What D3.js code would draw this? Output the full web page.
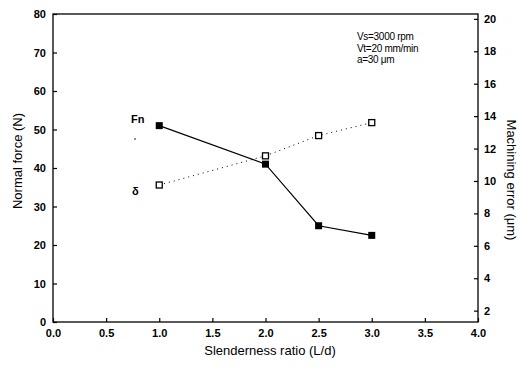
<html>
<head>
<meta charset="utf-8">
<script src="https://d3js.org/d3.v7.min.js"></script>
<style>
body {
	margin: 0;
	background: #fff;
	font-family: "Liberation Sans", Arial, sans-serif;
}
.tick text { font-weight: bold; font-size: 11px; font-family: "Liberation Sans", Arial, sans-serif; }
</style>
</head>
<body>
<div id="chart"></div>
<script>
	// slenderness ratio L/d
	var ratios = [1.0, 2.0, 2.5, 3.0];
	// normal force Fn (N)
	var forceFn = [51, 41, 25, 22.5];
	// machining error delta (um)
	var errorDelta = [9.75, 11.55, 12.8, 13.6];

	var xTicks = [0.0, 0.5, 1.0, 1.5, 2.0, 2.5, 3.0, 3.5, 4.0];
	var leftTicks = [0, 10, 20, 30, 40, 50, 60, 70, 80];
	var rightTicks = [2, 4, 6, 8, 10, 12, 14, 16, 18, 20];
	var notes = ["Vs=3000 rpm", "Vt=20 mm/min", "a=30 \u03bcm"];

	var width = 520, height = 367;
	var margin = {top: 14, right: 42, bottom: 45, left: 53};

	var svg = d3.select("#chart").append("svg")
		.attr("width", width)
		.attr("height", height);

	var x = d3.scaleLinear().domain([0, 4]).range([margin.left, width - margin.right]);
	var y = d3.scaleLinear().domain([0, 80]).range([height - margin.bottom, margin.top]);
	var y2 = d3.scaleLinear().domain([1.3, 20.3]).range([height - margin.bottom, margin.top]);

	// frame
	svg.append("rect")
		.attr("x", margin.left)
		.attr("y", margin.top)
		.attr("width", x(4) - x(0))
		.attr("height", y(0) - y(80))
		.attr("fill", "none")
		.attr("stroke", "#000")
		.attr("stroke-width", 1.3);

	var xAxis = svg.append("g")
		.attr("transform", `translate(0,${y(0)})`)
		.call(d3.axisTop(x).tickValues(xTicks).tickFormat(d3.format(".1f")).tickSize(4).tickPadding(0));
	xAxis.selectAll(".tick text").attr("dy", "0").attr("y", 15);

	var yAxis = svg.append("g")
		.attr("transform", `translate(${margin.left},0)`)
		.call(d3.axisRight(y).tickValues(leftTicks).tickSize(4));
	yAxis.selectAll(".tick text").attr("x", -7).attr("text-anchor", "end");

	var yAxis2 = svg.append("g")
		.attr("transform", `translate(${x(4)},0)`)
		.call(d3.axisLeft(y2).tickValues(rightTicks).tickSize(4));
	yAxis2.selectAll(".tick text").attr("x", 6).attr("text-anchor", "start");

	svg.selectAll(".domain").remove();
	svg.selectAll(".tick line").attr("stroke-width", 1.2);

	// axis titles
	svg.append("text")
		.attr("transform", "translate(22," + 161 + ") rotate(-90)")
		.attr("text-anchor", "middle")
		.style("font-size", "13px")
		.text("Normal force (N)");

	svg.append("text")
		.attr("transform", "translate(507," + 180 + ") rotate(90)")
		.attr("text-anchor", "middle")
		.style("font-size", "13px")
		.text("Machining error (\u03bcm)");

	svg.append("text")
		.attr("x", 270)
		.attr("y", 355)
		.attr("text-anchor", "middle")
		.style("font-size", "13px")
		.text("Slenderness ratio (L/d)");

	// Fn line
	var fnData = ratios.map((r, i) => [r, forceFn[i]]);
	svg.append("path")
		.datum(fnData)
		.attr("fill", "none")
		.attr("stroke", "#000")
		.attr("stroke-width", 1.2)
		.attr("d", d3.line().x(d => x(d[0])).y(d => y(d[1])));
	svg.selectAll("rect.fn")
		.data(fnData)
		.enter().append("rect")
		.attr("class", "fn")
		.attr("x", d => x(d[0]) - 3.5)
		.attr("y", d => y(d[1]) - 3.5)
		.attr("width", 7)
		.attr("height", 7)
		.attr("fill", "#000");

	// delta line
	var dData = ratios.map((r, i) => [r, errorDelta[i]]);
	svg.append("path")
		.datum(dData)
		.attr("fill", "none")
		.attr("stroke", "#000")
		.attr("stroke-width", 1)
		.attr("stroke-dasharray", "1,4")
		.attr("d", d3.line().x(d => x(d[0])).y(d => y2(d[1])));
	svg.selectAll("rect.dl")
		.data(dData)
		.enter().append("rect")
		.attr("class", "dl")
		.attr("x", d => x(d[0]) - 3)
		.attr("y", d => y2(d[1]) - 3)
		.attr("width", 6)
		.attr("height", 6)
		.attr("fill", "#fff")
		.attr("stroke", "#000")
		.attr("stroke-width", 1.3);

	// series labels
	svg.append("text")
		.attr("x", 131)
		.attr("y", 123)
		.style("font-size", "11px")
		.style("font-weight", "bold")
		.text("Fn");
	svg.append("circle")
		.attr("cx", 135)
		.attr("cy", 139)
		.attr("r", 0.8)
		.attr("fill", "#000");
	svg.append("text")
		.attr("x", 132)
		.attr("y", 195)
		.style("font-size", "11px")
		.style("font-weight", "bold")
		.text("\u03b4");

	// condition notes
	svg.selectAll("text.note")
		.data(notes)
		.enter().append("text")
		.attr("class", "note")
		.attr("x", 357)
		.attr("y", (d, i) => 40 + i * 11.5)
		.style("font-size", "10px")
		.style("letter-spacing", "-0.3px")
		.text(d => d);
</script>
</body>
</html>
